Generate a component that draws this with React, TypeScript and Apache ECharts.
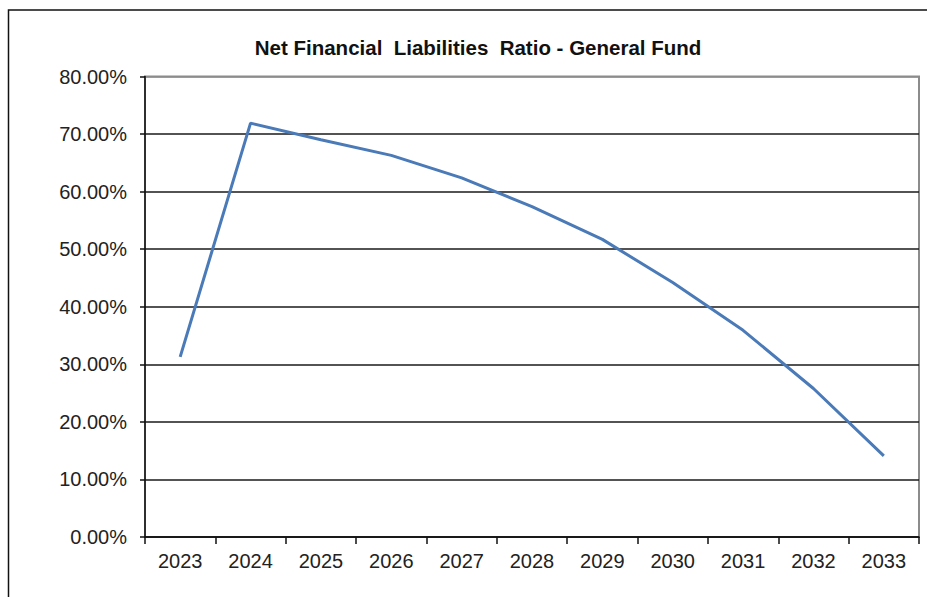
import React, { useEffect, useRef } from "react";
import * as echarts from "echarts";

const title = "Net Financial  Liabilities  Ratio - General Fund";
const years = ["2023", "2024", "2025", "2026", "2027", "2028", "2029", "2030", "2031", "2032", "2033"];
const ratioValues = [31.3, 71.9, 69.0, 66.3, 62.4, 57.4, 51.7, 44.2, 35.9, 25.8, 14.1];
const yMin = 0;
const yMax = 80;
const yStep = 10;

export default function App() {
  const ref = useRef<HTMLDivElement>(null);
  useEffect(() => {
    if (!ref.current) return;
    const chart = echarts.init(ref.current, undefined, { renderer: "svg" });
    const splitColors = Array.from({ length: 9 }, (_, i) => (i === 8 ? "#8c8c8c" : "#1a1a1a"));
    const font = "'Liberation Sans', Arial, sans-serif";
    chart.setOption({
      animation: false,
      backgroundColor: "#ffffff",
      textStyle: { fontFamily: font },
      title: {
        text: title,
        left: 473,
        textAlign: "center",
        top: 32,
        textStyle: { fontSize: 20.5, fontWeight: "bold", color: "#111", fontFamily: font },
      },
      graphic: [
        {
          type: "rect",
          shape: { x: 8.5, y: 10, width: 940, height: 620 },
          style: { fill: "none", stroke: "#111", lineWidth: 1.5 },
          silent: true,
          z: 100,
        },
      ],
      grid: {
        left: 145,
        right: 8,
        top: 76.5,
        bottom: 60,
        show: true,
        borderColor: "#8c8c8c",
        borderWidth: 2,
        backgroundColor: "transparent",
      },
      xAxis: {
        type: "category",
        data: years,
        boundaryGap: true,
        axisLine: { show: true, lineStyle: { color: "#111", width: 1.5 } },
        axisTick: { show: true, interval: 0, length: 7, lineStyle: { color: "#111", width: 1.5 } },
        axisLabel: { interval: 0, margin: 14, fontSize: 20, color: "#222", fontFamily: font },
        splitLine: { show: false },
      },
      yAxis: {
        type: "value",
        min: yMin,
        max: yMax,
        interval: yStep,
        axisLine: { show: true, lineStyle: { color: "#111", width: 1.5 } },
        axisTick: { show: true, length: 5, lineStyle: { color: "#111", width: 1.5 } },
        axisLabel: {
          margin: 18,
          fontSize: 20,
          color: "#222",
          fontFamily: font,
          formatter: (v: number) => v.toFixed(2) + "%",
        },
        splitLine: { show: true, lineStyle: { color: splitColors, width: 1.5 } },
      },
      series: [
        {
          type: "line",
          data: ratioValues,
          symbol: "none",
          lineStyle: { color: "#4a7ab7", width: 3 },
          itemStyle: { color: "#4a7ab7" },
          z: 5,
        },
      ],
    });
    return () => chart.dispose();
  }, []);
  return (
    <div
      ref={ref}
      style={{ position: "absolute", left: 0, top: 0, width: 927, height: 597 }}
    />
  );
}
